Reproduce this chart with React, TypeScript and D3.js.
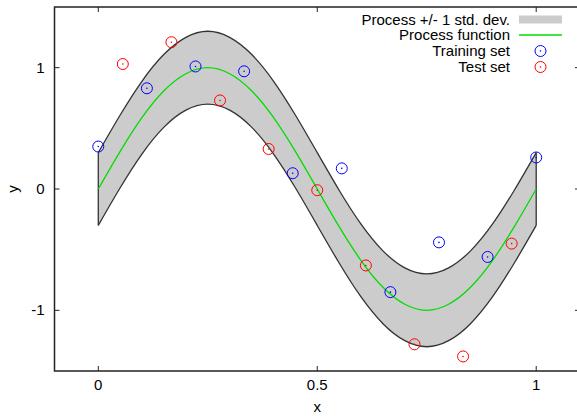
import React from "react";
import * as d3 from "d3";

const processX = [0, 0.05, 0.1, 0.15, 0.2, 0.25, 0.3, 0.35, 0.4, 0.45, 0.5, 0.55, 0.6, 0.65, 0.7, 0.75, 0.8, 0.85, 0.9, 0.95, 1];
const processY = [0, 0.31, 0.59, 0.81, 0.95, 1, 0.95, 0.81, 0.59, 0.31, 0, -0.31, -0.59, -0.81, -0.95, -1, -0.95, -0.81, -0.59, -0.31, 0];
const stdDev = 0.3;

const trainX = [0, 0.111, 0.222, 0.333, 0.444, 0.556, 0.667, 0.778, 0.889, 1];
const trainY = [0.35, 0.83, 1.01, 0.97, 0.13, 0.17, -0.85, -0.44, -0.56, 0.26];

const testX = [0.056, 0.167, 0.278, 0.389, 0.5, 0.611, 0.722, 0.833, 0.944];
const testY = [1.03, 1.21, 0.73, 0.33, -0.01, -0.63, -1.28, -1.38, -0.45];

const xTicks = [0, 0.5, 1];
const yTicks = [-1, 0, 1];
const legendLabels = ["Process +/- 1 std. dev.", "Process function", "Training set", "Test set"];

const W = 577;
const H = 416;
const FONT = "'Liberation Sans', Arial, Helvetica, sans-serif";

export default function App() {
  const x = d3.scaleLinear().domain([-0.1, 1.1]).range([54.5, 580]);
  const y = d3.scaleLinear().domain([-1.5, 1.5]).range([371, 7]);

  const pts = processX.map((px, i) => ({ x: px, m: processY[i] }));
  const area = d3
    .area<{ x: number; m: number }>()
    .x((d) => x(d.x))
    .y0((d) => y(d.m - stdDev))
    .y1((d) => y(d.m + stdDev))
    .curve(d3.curveNatural);
  const upper = d3
    .line<{ x: number; m: number }>()
    .x((d) => x(d.x))
    .y((d) => y(d.m + stdDev))
    .curve(d3.curveNatural);
  const lower = d3
    .line<{ x: number; m: number }>()
    .x((d) => x(d.x))
    .y((d) => y(d.m - stdDev))
    .curve(d3.curveNatural);
  const mean = d3
    .line<{ x: number; m: number }>()
    .x((d) => x(d.x))
    .y((d) => y(d.m))
    .curve(d3.curveNatural);

  const left = x(-0.1);
  const right = x(1.1);
  const top = y(1.5);
  const bottom = y(-1.5);
  const tl = 5;
  const fs = 15;

  const first = pts[0];
  const last = pts[pts.length - 1];

  const marker = (cx: number, cy: number, color: string, key: string) => (
    <g key={key}>
      <circle cx={cx} cy={cy} r={5.5} fill="none" stroke={color} strokeWidth={1} />
      <circle cx={cx} cy={cy} r={0.8} fill={color} />
    </g>
  );

  const legX = 510;
  const legY = [19.5, 35, 51, 67];
  const sampleX0 = 519;
  const sampleX1 = 562;

  return (
    <svg width={W} height={H} style={{ position: "absolute", left: 0, top: 0, background: "#fff" }} fontFamily={FONT}>
      <rect x={0} y={0} width={W} height={H} fill="#fff" />
      {/* band */}
      <path d={area(pts) || ""} fill="#cccccc" stroke="none" />
      <path d={upper(pts) || ""} fill="none" stroke="#333" strokeWidth={1.3} />
      <path d={lower(pts) || ""} fill="none" stroke="#333" strokeWidth={1.3} />
      <line x1={x(first.x)} x2={x(first.x)} y1={y(first.m - stdDev)} y2={y(first.m + stdDev)} stroke="#333" strokeWidth={1.3} />
      <line x1={x(last.x)} x2={x(last.x)} y1={y(last.m - stdDev)} y2={y(last.m + stdDev)} stroke="#333" strokeWidth={1.3} />
      {/* mean */}
      <path d={mean(pts) || ""} fill="none" stroke="#00dd00" strokeWidth={1.3} />
      {/* points */}
      {trainX.map((tx, i) => marker(x(tx), y(trainY[i]), "#0000ff", "tr" + i))}
      {testX.map((tx, i) => marker(x(tx), y(testY[i]), "#ff0000", "te" + i))}

      {/* frame */}
      <rect x={left} y={top} width={right - left} height={bottom - top} fill="none" stroke="#222" strokeWidth={1.5} />
      {xTicks.map((t) => (
        <g key={"xt" + t}>
          <line x1={x(t)} x2={x(t)} y1={bottom} y2={bottom - tl} stroke="#222" strokeWidth={1} />
          <line x1={x(t)} x2={x(t)} y1={top} y2={top + tl} stroke="#222" strokeWidth={1} />
          <text x={x(t)} y={bottom + 19} fontSize={fs} textAnchor="middle" fill="#000">
            {String(t)}
          </text>
        </g>
      ))}
      {yTicks.map((t) => (
        <g key={"yt" + t}>
          <line x1={left} x2={left + tl} y1={y(t)} y2={y(t)} stroke="#222" strokeWidth={1} />
          <line x1={right} x2={right - tl} y1={y(t)} y2={y(t)} stroke="#222" strokeWidth={1} />
          <text x={left - 10} y={y(t) + 5} fontSize={fs} textAnchor="end" fill="#000">
            {String(t)}
          </text>
        </g>
      ))}
      <text x={(x(0) + x(1)) / 2} y={412} fontSize={fs} textAnchor="middle" fill="#000">x</text>
      <text transform={`translate(18,${y(0)}) rotate(-90)`} fontSize={fs} textAnchor="middle" fill="#000">y</text>

      {/* legend */}
      {legendLabels.map((l, i) => (
        <text key={"lg" + i} x={legX} y={legY[i] + 5} fontSize={fs} textAnchor="end" fill="#000">
          {l}
        </text>
      ))}
      <rect x={sampleX0} y={legY[0] - 4} width={sampleX1 - sampleX0} height={8} fill="#cccccc" />
      <line x1={sampleX0} x2={sampleX1} y1={legY[1]} y2={legY[1]} stroke="#00dd00" strokeWidth={1.3} />
      {marker((sampleX0 + sampleX1) / 2, legY[2], "#0000ff", "lgtr")}
      {marker((sampleX0 + sampleX1) / 2, legY[3], "#ff0000", "lgte")}
    </svg>
  );
}
